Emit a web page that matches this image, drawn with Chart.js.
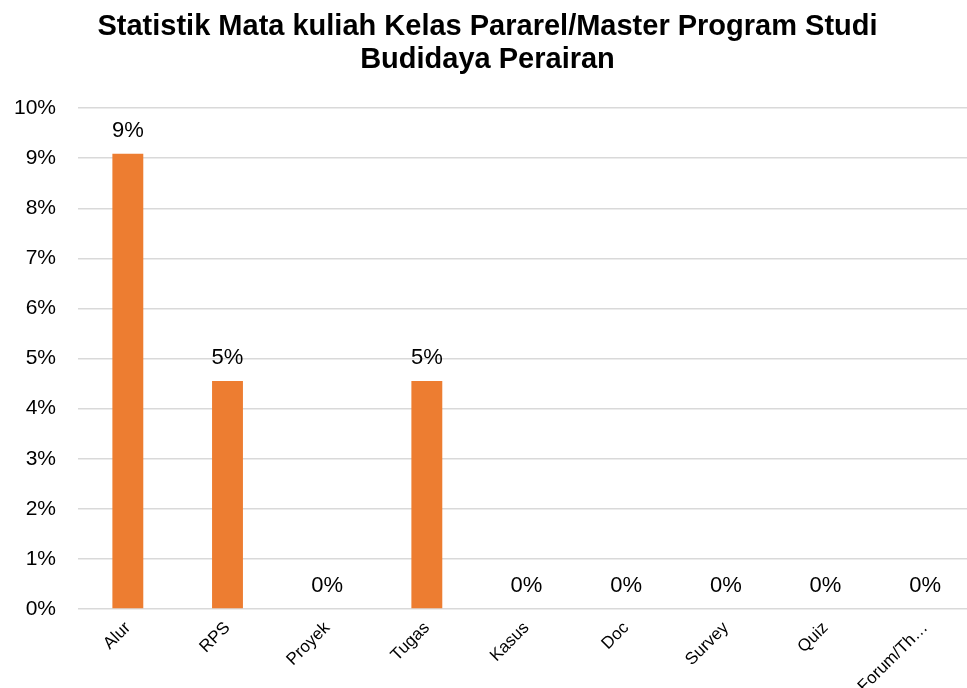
<!DOCTYPE html>
<html>
<head>
<meta charset="utf-8">
<title>Statistik Mata kuliah</title>
<script src="https://cdn.jsdelivr.net/npm/chart.js@4/dist/chart.umd.min.js"></script>
<style>
  html, body { margin: 0; padding: 0; background: #fff; overflow: hidden; }
  #wrap { width: 980px; height: 688px; position: relative; }
</style>
</head>
<body>
<div id="wrap"><canvas id="mainChart"></canvas></div>
<script>
// data kategori & nilai (persen)
const categories = ['Alur', 'RPS', 'Proyek', 'Tugas', 'Kasus', 'Doc', 'Survey', 'Quiz', 'Forum/Th…'];
const percentValues = [9.09, 4.55, 0, 4.55, 0, 0, 0, 0, 0];
const yTicks = [0, 1, 2, 3, 4, 5, 6, 7, 8, 9, 10];

const chartTitle = ['Statistik Mata kuliah Kelas Pararel/Master Program Studi', 'Budidaya Perairan'];
const FONT = '"Liberation Sans", Arial, sans-serif';

// label angka di atas bar (tanpa plugin datalabels)
const barLabels = {
    id: 'barLabels',
    afterDatasetsDraw(chart) {
        const ctx = chart.ctx;
        const meta = chart.getDatasetMeta(0);
        ctx.save();
        ctx.font = '22px ' + FONT;
        ctx.fillStyle = '#000';
        ctx.textAlign = 'center';
        ctx.textBaseline = 'middle';
        meta.data.forEach((bar, i) => {
            const v = percentValues[i];
            ctx.fillText(Math.round(v) + '%', bar.x, bar.y - 23);
        });
        ctx.restore();
    }
};

const ctx = document.getElementById('mainChart').getContext('2d');
new Chart(ctx, {
    type: 'bar',
    data: {
        labels: categories,
        datasets: [{
            data: percentValues,
            backgroundColor: '#ED7D31',
            borderWidth: 0,
            barPercentage: 0.31,
            categoryPercentage: 1
        }]
    },
    options: {
        responsive: true,
        maintainAspectRatio: false,
        animation: false,
        layout: { padding: { left: 0, right: 5, top: 0, bottom: 0 } },
        plugins: {
            legend: { display: false },
            tooltip: { enabled: false },
            title: {
                display: true,
                text: chartTitle,
                color: '#000',
                font: { family: FONT, size: 29, weight: 'bold', lineHeight: 1.14 },
                padding: { top: 10, bottom: 32 }
            }
        },
        scales: {
            y: {
                min: 0,
                max: 10,
                afterBuildTicks(scale) { scale.ticks = yTicks.map(v => ({ value: v })); },
                afterFit(scale) { scale.width = 78; },
                border: { display: false },
                grid: { color: '#d9d9d9', lineWidth: 1.5, drawTicks: false },
                ticks: {
                    padding: 22,
                    color: '#000',
                    font: { family: FONT, size: 21 },
                    callback: v => v + '%'
                }
            },
            x: {
                afterFit(scale) { scale.height = 79; },
                border: { display: false },
                grid: { display: false, drawTicks: false },
                ticks: {
                    autoSkip: false,
                    maxRotation: 45,
                    minRotation: 45,
                    padding: 9,
                    color: '#000',
                    font: { family: FONT, size: 17 }
                }
            }
        }
    },
    plugins: [barLabels]
});
</script>
</body>
</html>
